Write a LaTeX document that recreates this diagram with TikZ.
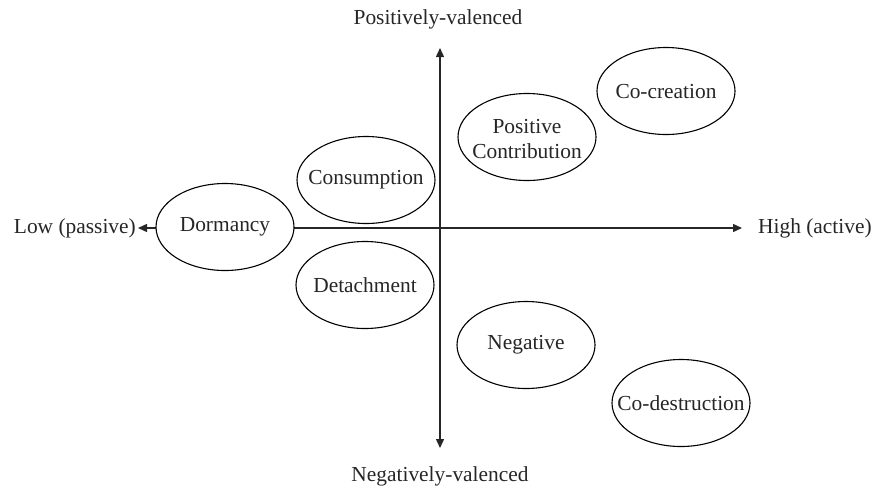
\documentclass[tikz,border=0pt]{standalone}
\usepackage{fontspec}
\setmainfont{Liberation Serif}
\usetikzlibrary{arrows.meta,shapes.geometric}
\begin{document}
\begin{tikzpicture}[x=1pt,y=-1pt,
  every node/.style={font=\fontsize{21.4}{25}\selectfont, text=black!85},
  quad/.style={ellipse, draw=black, line width=1.1pt, fill=white, minimum width=138pt, minimum height=87pt, inner sep=0pt},
  qtext/.style={align=center, inner sep=0pt},
  axis/.style={line width=1.4pt, draw=black!85, {Triangle[length=9pt,width=8pt]}-{Triangle[length=9pt,width=8pt]}},
  lbl/.style={inner sep=0pt}]
\useasboundingbox (0,0) rectangle (872,493);
\coordinate (L) at (138,228);
\coordinate (R) at (742,228);
\coordinate (T) at (440,48);
\coordinate (B) at (440,448);
\draw[axis] (L) -- (R);
\draw[axis] (B) -- (T);
\node[quad] (dorm) at (225,227) {};
\node[quad] (cons) at (366,180) {};
\node[quad] (deta) at (365,285) {};
\node[quad] (posc) at (527,137) {};
\node[quad] (cocr) at (666,91) {};
\node[quad] (nega) at (526,345) {};
\node[quad] (code) at (681,403) {};
\node[qtext] (dormt) at (dorm) {Dormancy};
\node[qtext] (const) at (cons) {Consumption};
\node[qtext] (detat) at (deta) {Detachment};
\node[qtext] (posct) at ([yshift=-2pt]posc.center) {Positive\\Contribution};
\node[qtext] (cocrt) at ([yshift=-1pt]cocr.center) {Co-creation};
\node[qtext] (negat) at (nega) {Negative};
\node[qtext] (codet) at (code) {Co-destruction};
\node[lbl, anchor=east] (low) at (136,228) {Low (passive)};
\node[lbl, anchor=west] (high) at (758,228) {High (active)};
\node[lbl] (pos) at (438,19) {Positively-valenced};
\node[lbl] (neg) at (440,476) {Negatively-valenced};
\end{tikzpicture}
\end{document}
